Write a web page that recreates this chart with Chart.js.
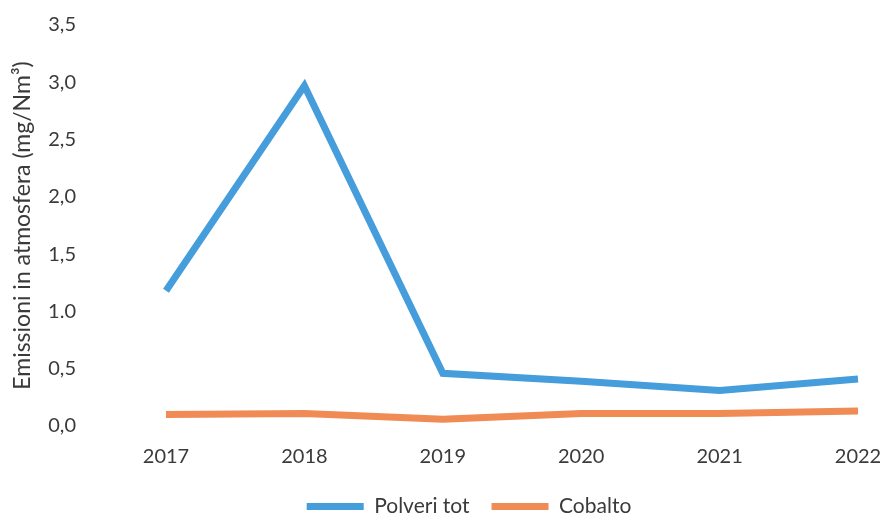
<!DOCTYPE html>
<html>
<head>
<meta charset="utf-8">
<script src="https://cdn.jsdelivr.net/npm/chart.js@4/dist/chart.umd.min.js"></script>
<style>
  html, body { margin: 0; padding: 0; background: #fff; }
  #wrap { width: 885px; height: 515px; }
</style>
</head>
<body>
<div id="wrap"><canvas id="chart"></canvas></div>
<script>
const years = ['2017', '2018', '2019', '2020', '2021', '2022'];
const polveriTot = [1.18, 2.97, 0.46, 0.39, 0.31, 0.41];
const cobalto = [0.10, 0.11, 0.06, 0.11, 0.11, 0.13];
const yTickLabels = ['0,0', '0,5', '1.0', '1,5', '2,0', '2,5', '3,0', '3,5'];

const FONT = 'Lato, "Open Sans", sans-serif';
const TEXT = '#3a3a3a';

// nudge the legend a bit right, as in the original
const legendShift = {
    id: 'legendShift',
    afterLayout(chart) {
        chart.legend.left += 40;
        chart.legend.right += 40;
    }
};

new Chart(document.getElementById('chart'), {
    type: 'line',
    data: {
        labels: years,
        datasets: [
            {
                label: 'Polveri tot',
                data: polveriTot,
                borderColor: '#469ddb',
                backgroundColor: '#469ddb',
                borderWidth: 7,
                pointRadius: 0,
                tension: 0
            },
            {
                label: 'Cobalto',
                data: cobalto,
                borderColor: '#f08b55',
                backgroundColor: '#f08b55',
                borderWidth: 7,
                pointRadius: 0,
                tension: 0
            }
        ]
    },
    options: {
        responsive: true,
        maintainAspectRatio: false,
        animation: false,
        layout: { padding: { top: 25, right: 27, bottom: -12, left: 0 } },
        plugins: {
            tooltip: { enabled: false },
            legend: {
                position: 'bottom',
                labels: {
                    boxWidth: 57,
                    boxHeight: 7,
                    padding: 22,
                    color: TEXT,
                    font: { family: FONT, size: 21 },
                    generateLabels(chart) {
                        const items = Chart.defaults.plugins.legend.labels.generateLabels(chart);
                        items.forEach(it => { it.lineWidth = 0; });
                        return items;
                    }
                }
            }
        },
        scales: {
            x: {
                offset: false,
                grid: { display: false },
                border: { display: false },
                ticks: {
                    color: TEXT,
                    padding: 11,
                    maxRotation: 0,
                    font: { family: FONT, size: 20 }
                },
                afterFit(scale) {
                    scale.height = 48;
                    scale.paddingLeft = 0;
                    scale.paddingRight = 0;
                }
            },
            y: {
                min: 0,
                max: 3.5,
                grid: { display: false },
                border: { display: false },
                ticks: {
                    stepSize: 0.5,
                    color: TEXT,
                    padding: 82,
                    font: { family: FONT, size: 20 },
                    callback: (v) => yTickLabels[Math.round(v / 0.5)]
                },
                title: {
                    display: true,
                    text: 'Emissioni in atmosfera (mg/Nm³)',
                    color: TEXT,
                    padding: { top: 9, bottom: 0 },
                    font: { family: FONT, size: 23 }
                },
                afterFit(scale) {
                    scale.width = 166;
                    scale.paddingTop = 0;
                    scale.paddingBottom = 0;
                }
            }
        }
    },
    plugins: [legendShift]
});
</script>
</body>
</html>
